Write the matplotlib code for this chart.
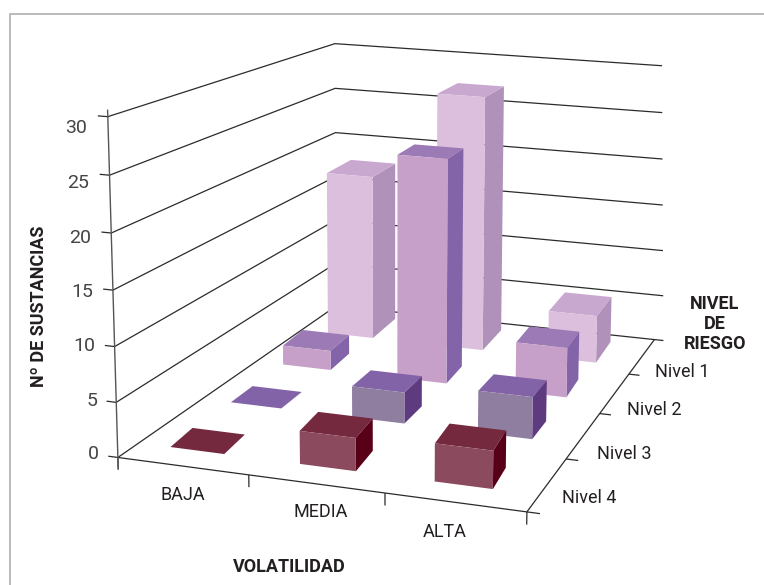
import numpy as np
import matplotlib
matplotlib.use("Agg")
import matplotlib.pyplot as plt
from matplotlib.lines import Line2D
from mpl_toolkits.mplot3d.art3d import Line3DCollection, Poly3DCollection

plt.rcParams["font.family"] = ["Roboto", "DejaVu Sans"]

volatilidad = ["BAJA", "MEDIA", "ALTA"]
niveles = ["Nivel 4", "Nivel 3", "Nivel 2", "Nivel 1"]
z_ticks = [0, 5, 10, 15, 20, 25, 30]

nivel_4 = [0, 3, 3.4]
nivel_3 = [0, 3, 4]
nivel_2 = [2, 22.7, 5]
nivel_1 = [17.6, 27, 5]
series = [nivel_4, nivel_3, nivel_2, nivel_1]

# front, top and side colour of each series
front_colors = ["#8b4a5e", "#8f7ea0", "#c6a0c8", "#dbbfdd"]
top_colors = ["#74293f", "#8363a8", "#9b7ab5", "#c9a8d0"]
side_colors = ["#570018", "#5e3a7e", "#8364a8", "#af91ba"]

# the bars are not drawn quite on the floor grid: per row depth, lean and offset
bar_depth = [0.40, 0.40, 0.45, 0.60]
bar_lean = [-0.03, -0.005, -0.02, -0.02]
row_shift = [-0.04, -0.05, -0.05, -0.04]
BAR_W = 0.42

W, H = 764, 585

# camera: box corners (x, y, z) and where they land on the canvas
box_pts = [(0, 0, 0), (3, 0, 0), (3, 4, 0), (0, 4, 0), (0, 0, 30), (0, 4, 30), (3, 4, 30),
           (1, 0, 0), (2, 0, 0)]
canvas_pts = [(112, 455), (526, 511), (653, 344), (337, 304), (106.7, 120), (336.7, 44.7), (661, 62),
              (252.7, 475), (389, 492.7)]


def camera_matrix(pts, uv):
    rows = []
    for (x, y, z), (u, v) in zip(pts, uv):
        rows.append([x, y, z, 1, 0, 0, 0, 0, -u * x, -u * y, -u * z, -u])
        rows.append([0, 0, 0, 0, x, y, z, 1, -v * x, -v * y, -v * z, -v])
    _, _, vt = np.linalg.svd(np.array(rows, dtype=float))
    P = vt[-1].reshape(3, 4)
    P = P / P[2, 3]
    # third row only carries depth for mplot3d
    return np.array([P[0], P[1], [0, 0, 0, -1.0], P[2]])


def bar_faces(x, y, w, d, h, lean):
    bx = x + lean
    front = [(x, y, 0), (x + w, y, 0), (x + w, y, h), (x, y, h)]
    side = [(x + w, y, 0), (bx + w, y + d, 0), (bx + w, y + d, h), (x + w, y, h)]
    top = [(x, y, h), (x + w, y, h), (bx + w, y + d, h), (bx, y + d, h)]
    return [front, side, top]


def px_text(x, y, s, **kw):
    kw.setdefault("va", "center")
    kw.setdefault("color", "#231f20")
    return fig.text(x / W, 1 - y / H, s, **kw)


fig = plt.figure(figsize=(W / 100, H / 100), dpi=100, facecolor="white")
side = W / H
ax = fig.add_axes([0, (1 - side) / 2, 1, side], projection="3d", facecolor="none")
ax.set_axis_off()
ax.computed_zorder = False
M = camera_matrix(box_pts, canvas_pts)
ax.get_proj = lambda: M
ax.viewLim.intervalx = (0, W)
ax.viewLim.intervaly = (H + (W - H) / 2, -(W - H) / 2)

# outer frame, top and left only
fig.add_artist(Line2D([10 / W, 10 / W, 1], [0, 1 - 13.5 / H, 1 - 13.5 / H], color="#b4b4b4", lw=1.3))

segs = []
for z in z_ticks:
    # wall gridlines all stop on the same canvas column
    x_end = 3 + 0.0027 * (30 - z)
    segs.append([(-0.075, 0, z), (0, 0, z), (0, 4, z), (x_end, 4, z)])
# floor edges
segs.append([(0, 0, 0), (3, 0, 0), (3, 4, 0)])
for i in range(4):
    segs.append([(i, 0, 0), (i, 0, -1.1)])
for j in range(4):
    segs.append([(3, j, 0), (3.09, j, 0)])
ax.add_collection3d(Line3DCollection(segs, colors="#2b2b2b", linewidths=0.9, zorder=0.5), autolim=False)
ax.add_collection3d(Line3DCollection([[(0, 0, -1.1), (0, 0, 30.6)]], colors="#555555", linewidths=1.0, zorder=0.6),
                    autolim=False)

for j in range(3, -1, -1):
    for i in range(3):
        x0 = i + (1 - BAR_W) / 2 + row_shift[j]
        y0 = j + (1 - bar_depth[j]) / 2
        faces = bar_faces(x0, y0, BAR_W, bar_depth[j], series[j][i], bar_lean[j])
        bar = Poly3DCollection(faces, facecolors=[front_colors[j], side_colors[j], top_colors[j]],
                               linewidths=0, zorder=2)
        ax.add_collection3d(bar, autolim=False)

# tick labels, columns step inward with the axis
tick_right = [99, 97, 95, 93, 91, 89, 87]
tick_y = [454, 401, 346, 292, 238, 183, 128]
for v, xr, yc in zip(z_ticks, tick_right, tick_y):
    px_text(xr, yc, str(v), ha="right", fontsize=14, color="#444444")

cat_x = [183, 321, 445]
cat_y = [495, 512, 532]
for s, xc, yc in zip(volatilidad, cat_x, cat_y):
    px_text(xc, yc, s, ha="center", fontsize=13)

nivel_x = [562, 597, 627, 655]
nivel_y = [498, 454, 410, 372]
for s, xl, yc in zip(niveles, nivel_x, nivel_y):
    px_text(xl, yc, s, ha="left", fontsize=13)

px_text(289, 567, "VOLATILIDAD", ha="center", fontsize=13, fontweight="bold")
px_text(39, 306, "Nº DE SUSTANCIAS", ha="center", rotation=90, fontsize=13, fontweight="bold")
for s, yc in zip(["NIVEL", "DE", "RIESGO"], [304, 324, 344]):
    px_text(715, yc, s, ha="center", fontsize=13, fontweight="bold")

fig.savefig("out.png", dpi=100)
